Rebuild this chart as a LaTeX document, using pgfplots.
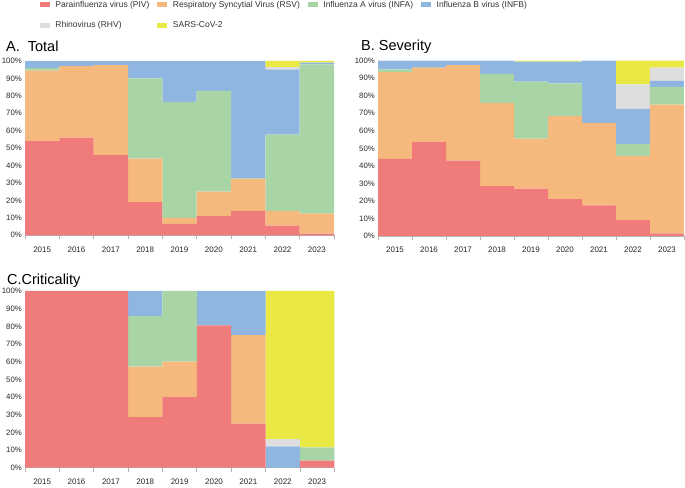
\documentclass[border=0pt]{standalone}
\usepackage{pgfplots}
\pgfplotsset{compat=1.18}
\usepackage{fontspec}
\setmainfont{Liberation Sans}
\definecolor{cPIV}{HTML}{EF7B7B}
\definecolor{cRSV}{HTML}{F5B97D}
\definecolor{cINFA}{HTML}{A9D5A6}
\definecolor{cINFB}{HTML}{8EB6E1}
\definecolor{cRHV}{HTML}{DEDEDE}
\definecolor{cSARS}{HTML}{E9E845}
\definecolor{axgray}{HTML}{B4B4B4}
\pgfplotsset{
  panel/.style={
    scale only axis,
    ybar stacked, bar width=1,
    xmin=-0.5, xmax=8.5, ymin=0, ymax=100,
    axis x line*=bottom, axis y line*=left,
    x axis line style={draw=axgray, line width=0.8bp, -},
    y axis line style={draw=none},
    xtick={0,...,8},
    xticklabels={2015,2016,2017,2018,2019,2020,2021,2022,2023},
    minor xtick={-0.5,0.5,...,8.5},
    ytick={0,10,...,100},
    yticklabel={\pgfmathprintnumber[assume math mode=true]{\tick}\%},
    tick align=outside,
    major tick length=0pt, minor tick length=4bp,
    major tick style={draw=none},
    minor x tick style={draw=axgray, line width=0.8bp},
    xticklabel style={font=\fontsize{8bp}{9bp}\selectfont, inner sep=0pt, anchor=north, yshift=-11bp, text=black!85},
    yticklabel style={font=\fontsize{7.8bp}{9bp}\selectfont, inner sep=0pt, anchor=east, xshift=-3bp, text=black!85},
  },
}
\begin{document}
\begin{tikzpicture}
\useasboundingbox (0,0) rectangle (685bp,488bp);
% ---------- A. Total ----------
\begin{axis}[panel, at={(25bp,252.7bp)}, anchor=south west, width=309bp, height=174.3bp,
  legend columns=4,
  legend cell align=left,
  legend image code/.code={\fill[#1] (0bp,-2.5bp) rectangle (10bp,2.5bp);},
  legend style={at={(0.0485,1.344)}, anchor=north west, draw=none, fill=none,
    inner sep=0pt, outer sep=0pt,
    font=\fontsize{8.5bp}{10bp}\selectfont, text=black!80,
    row sep=13bp,
    nodes={inner sep=0pt},
    /tikz/every odd column/.append style={column sep=5.5bp},
    /tikz/every even column/.append style={column sep=8bp}},
]
\addplot[fill=cPIV, draw=none] coordinates {(0,54) (1,56) (2,46) (3,19) (4,6.5) (5,11) (6,14) (7,5.5) (8,1)};
\addlegendentry{Parainfluenza virus (PIV)}
\addplot[fill=cRSV, draw=none] coordinates {(0,40.5) (1,41) (2,51.7) (3,25) (4,3.5) (5,14) (6,18.3) (7,8.5) (8,11.5)};
\addlegendentry{Respiratory Syncytial Virus (RSV)}
\addplot[fill=cINFA, draw=none] coordinates {(0,1.5) (1,0) (2,0) (3,46) (4,66.5) (5,57.8) (6,0.3) (7,43.8) (8,85.5)};
\addlegendentry{Influenza A virus (INFA)}
\addplot[fill=cINFB, draw=none] coordinates {(0,4) (1,3) (2,2.3) (3,10) (4,23.5) (5,17.2) (6,67.4) (7,37.2) (8,1)};
\addlegendentry{Influenza B virus (INFB)}
\addplot[fill=cRHV, draw=none] coordinates {(0,0) (1,0) (2,0) (3,0) (4,0) (5,0) (6,0) (7,1.5) (8,0)};
\addlegendentry{Rhinovirus (RHV)}
\addplot[fill=cSARS, draw=none] coordinates {(0,0) (1,0) (2,0) (3,0) (4,0) (5,0) (6,0) (7,3.5) (8,1)};
\addlegendentry{SARS-CoV-2}
\end{axis}
% ---------- B. Severity ----------
\begin{axis}[panel, at={(378bp,252bp)}, anchor=south west, width=306bp, height=175.3bp]
\addplot[fill=cPIV, draw=none] coordinates {(0,44) (1,53.5) (2,43) (3,28.5) (4,27) (5,21) (6,17.5) (7,9) (8,1.5)};
\addplot[fill=cRSV, draw=none] coordinates {(0,49.5) (1,42.5) (2,54.5) (3,47.5) (4,28.5) (5,47.5) (6,47) (7,36.5) (8,73.5)};
\addplot[fill=cINFA, draw=none] coordinates {(0,1.5) (1,0) (2,0) (3,16.5) (4,32.5) (5,18.5) (6,0) (7,7) (8,10)};
\addplot[fill=cINFB, draw=none] coordinates {(0,5) (1,4) (2,2.5) (3,7.5) (4,11.5) (5,12.5) (6,35.5) (7,20) (8,3.5)};
\addplot[fill=cRHV, draw=none] coordinates {(0,0) (1,0) (2,0) (3,0) (4,0) (5,0) (6,0) (7,14) (8,7.5)};
\addplot[fill=cSARS, draw=none] coordinates {(0,0) (1,0) (2,0) (3,0) (4,0.5) (5,0.5) (6,0) (7,13.5) (8,4)};
\end{axis}
% ---------- C. Criticality ----------
\begin{axis}[panel, at={(25bp,20.3bp)}, anchor=south west, width=309.3bp, height=176.7bp]
\addplot[fill=cPIV, draw=none] coordinates {(0,100) (1,100) (2,100) (3,28.6) (4,40) (5,80.5) (6,25) (7,0) (8,4)};
\addplot[fill=cRSV, draw=none] coordinates {(0,0) (1,0) (2,0) (3,28.6) (4,20) (5,0) (6,50) (7,0) (8,0)};
\addplot[fill=cINFA, draw=none] coordinates {(0,0) (1,0) (2,0) (3,28.6) (4,40) (5,0) (6,0) (7,0) (8,7.5)};
\addplot[fill=cINFB, draw=none] coordinates {(0,0) (1,0) (2,0) (3,14.2) (4,0) (5,19.5) (6,25) (7,12) (8,0)};
\addplot[fill=cRHV, draw=none] coordinates {(0,0) (1,0) (2,0) (3,0) (4,0) (5,0) (6,0) (7,4) (8,0)};
\addplot[fill=cSARS, draw=none] coordinates {(0,0) (1,0) (2,0) (3,0) (4,0) (5,0) (6,0) (7,84) (8,88.5)};
\end{axis}
% ---------- titles ----------
\node[anchor=base west, inner sep=0pt, font=\fontsize{14.5bp}{17bp}\selectfont] at (6bp,436.3bp) {A.\hspace{0.55em}Total};
\node[anchor=base west, inner sep=0pt, font=\fontsize{14.5bp}{17bp}\selectfont] at (361bp,437bp) {B. Severity};
\node[anchor=base west, inner sep=0pt, font=\fontsize{14.5bp}{17bp}\selectfont] at (7bp,203.7bp) {C.Criticality};
\end{tikzpicture}
\end{document}
